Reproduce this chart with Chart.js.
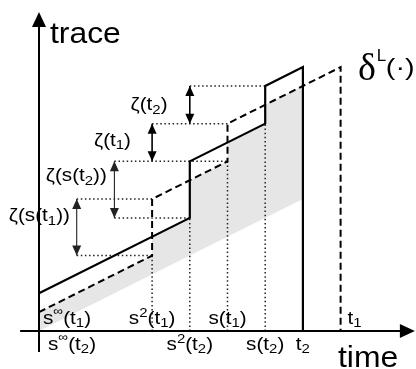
<!DOCTYPE html>
<html>
<head>
<meta charset="utf-8">
<script src="https://cdn.jsdelivr.net/npm/chart.js@4.4.0/dist/chart.umd.min.js"></script>
<style>
html, body { margin: 0; padding: 0; background: #fff; }
</style>
</head>
<body>
<canvas id="c" width="416" height="369"></canvas>
<script>
// trace (solid) and lower bound delta^L (dashed), time in steps, value in units
const traceT = [0, 4, 4, 6, 6, 7, 7];
const traceV = [1, 3, 4.5, 5.5, 6.5, 7, 0];
const boundT = [0, 3, 3, 5, 5, 8, 8];
const boundV = [0.5, 2, 3.5, 4.5, 5.5, 7, 0];

// grey band: under min(trace, bound), over the slope line
const shadeT = [0, 3, 3, 4, 4, 5, 5, 6, 6, 7, 7, 0];
const shadeV = [0.5, 2, 2.5, 3, 4, 4.5, 5, 5.5, 6, 6.5, 3.5, 0];

// zeta jumps
const zetaT = [1, 2, 3, 4];
const zetaLo = [2, 3, 4.5, 5.5];
const zetaHi = [3.5, 4.5, 5.5, 6.5];
const zetaNames = ['ζ(s(t_1))', 'ζ(s(t_2))', 'ζ(t_1)', 'ζ(t_2)'];

// dotted guides
const guideV = [2, 3.5, 3, 4.5, 5.5, 6.5];
const guideFrom = [1, 1, 2, 2, 3, 4];
const guideTo = [3, 3, 4, 5, 5, 6];
const dropT = [3, 4, 5, 6];
const dropTop = [2, 3, 4.5, 5.5];

// tick labels
const upperTickT = [0, 3, 5, 8];
const upperTicks = ['s^∞(t_1)', 's^2(t_1)', 's(t_1)', 't_1'];
const lowerTickT = [0, 4, 6, 7];
const lowerTicks = ['s^∞(t_2)', 's^2(t_2)', 's(t_2)', 't_2'];

// view window
const xMin = -1.0345, xMax = 10.0, yMin = -1.008, yMax = 8.78;

const FAM = '"Liberation Sans", Arial, sans-serif';

const pts = (ts, vs) => ts.map((t, i) => ({x: t, y: vs[i]}));
const line = (data, extra) => Object.assign({
	data, showLine: true, pointRadius: 0, borderColor: '#000',
	borderWidth: 2, fill: false, tension: 0
}, extra);
const dotted = {borderWidth: 1.5, borderColor: '#222', borderDash: [1.5, 2.6]};

let datasets = [];
datasets.push(line(pts(traceT, traceV), {borderWidth: 2.2}));
datasets.push(line(pts(boundT, boundV), {borderDash: [7, 4]}));
guideV.forEach((v, i) => datasets.push(line([{x: guideFrom[i], y: v}, {x: guideTo[i], y: v}], dotted)));
dropT.forEach((t, i) => datasets.push(line([{x: t, y: 0}, {x: t, y: dropTop[i]}], dotted)));
zetaT.forEach((t, i) => datasets.push(line([{x: t, y: zetaLo[i]}, {x: t, y: zetaHi[i]}], {borderWidth: i < 2 ? 1.1 : 1.6, borderColor: i < 2 ? '#222' : '#000'})));
datasets.push(line(pts(shadeT, shadeV), {borderWidth: 0, borderColor: 'rgba(0,0,0,0)', backgroundColor: '#e6e6e6', fill: 'shape'}));

let runs = (str) => {
	let out = [];
	for(let i = 0; i < str.length; i++){
		let c = str[i];
		if((c === '^' || c === '_') && i + 1 < str.length){
			out.push({s: str[i + 1], k: c});
			i++;
		} else if(out.length && out[out.length - 1].k === 'n'){
			out[out.length - 1].s += c;
		} else {
			out.push({s: c, k: 'n'});
		}
	}
	return out;
}

let drawRich = (ctx, str, x, y, size, align, sx) => {
	let rs = runs(str);
	let fontOf = r => r.k === 'n' ? size : (r.s === '∞' ? 12 : Math.round(size * 0.72));
	let shiftOf = r => r.k === '_' ? size * 0.2 : r.k === '^' ? (r.s === '∞' ? -size * 0.5 : -size * 0.36) : 0;
	let widths = rs.map(r => { ctx.font = fontOf(r) + 'px ' + FAM; return ctx.measureText(r.s).width; });
	let total = widths.reduce((a, b) => a + b, 0) * sx;
	let start = align === 'center' ? x - total / 2 : x;
	ctx.save();
	ctx.translate(start, y);
	ctx.scale(sx, 1);
	ctx.textAlign = 'left';
	ctx.textBaseline = 'alphabetic';
	let cx = 0;
	rs.forEach((r, i) => {
		ctx.font = fontOf(r) + 'px ' + FAM;
		ctx.fillText(r.s, cx, shiftOf(r));
		cx += widths[i];
	});
	ctx.restore();
}

let head = (ctx, x, y, dx, dy, len, half) => {
	let bx = x - dx * len, by = y - dy * len;
	ctx.beginPath();
	ctx.moveTo(x, y);
	ctx.lineTo(bx - dy * half, by + dx * half);
	ctx.lineTo(bx + dy * half, by - dx * half);
	ctx.closePath();
	ctx.fill();
}

const sketch = {
	id: 'sketch',
	afterDatasetsDraw(chart){
		let {ctx, scales: {x, y}} = chart;
		let px = t => x.getPixelForValue(t), py = v => y.getPixelForValue(v);
		ctx.save();
		ctx.fillStyle = '#000';
		ctx.strokeStyle = '#000';
		ctx.lineWidth = 2;

		// axes with arrow heads
		ctx.beginPath();
		ctx.moveTo(px(0), py(-0.56));
		ctx.lineTo(px(0), py(8.46) + 10);
		ctx.moveTo(px(-0.5), py(0));
		ctx.lineTo(px(9.97) - 10, py(0));
		ctx.stroke();
		head(ctx, px(0), py(8.46), 0, -1, 15, 7);
		head(ctx, px(9.97), py(0), 1, 0, 15, 7);

		// zeta arrow heads and names
		zetaT.forEach((t, i) => {
			ctx.fillStyle = i < 2 ? '#222' : '#000';
			head(ctx, px(t), py(zetaHi[i]), 0, -1, 10, 4.5);
			head(ctx, px(t), py(zetaLo[i]), 0, 1, 10, 4.5);
		});
		ctx.fillStyle = '#000';
		let zetaAt = [[0.01, 2.92], [0.99, 3.98], [1.95, 4.91], [2.92, 5.86]];
		zetaNames.forEach((n, i) => drawRich(ctx, n, px(zetaAt[i][0]), py(zetaAt[i][1]), 18, 'center', 1.15));

		// tick labels
		upperTickT.forEach((t, i) => {
			let edge = t === 0 || t === 8;
			drawRich(ctx, upperTicks[i], px(t) + (t === 0 ? 4 : edge ? 7 : 0), py(0.19), 18, edge ? 'left' : 'center', 1.15);
		});
		lowerTickT.forEach((t, i) => {
			drawRich(ctx, lowerTicks[i], px(t) + (t === 0 ? 9 : 0), py(-0.5), 18, t === 0 ? 'left' : 'center', 1.15);
		});

		// axis titles and bound name
		drawRich(ctx, 'trace', px(0.29), py(7.64), 29, 'left', 1.1);
		drawRich(ctx, 'time', px(7.93), py(-0.955), 29, 'left', 1.1);
		let lx = px(8.46);
		ctx.font = '38px "Liberation Serif", "Times New Roman", serif';
		ctx.fillText('δ', lx, py(6.65));
		let dw = ctx.measureText('δ').width;
		drawRich(ctx, 'L', lx + dw + 1, py(7.16), 17, 'left', 1.0);
		drawRich(ctx, '(·)', lx + dw + 10, py(6.8), 24, 'left', 1.2);
		ctx.restore();
	}
};

new Chart(document.getElementById('c'), {
	type: 'scatter',
	data: {datasets},
	options: {
		responsive: false,
		animation: false,
		devicePixelRatio: 1,
		layout: {padding: 0},
		plugins: {legend: {display: false}, tooltip: {enabled: false}},
		scales: {
			x: {type: 'linear', display: false, min: xMin, max: xMax},
			y: {type: 'linear', display: false, min: yMin, max: yMax}
		}
	},
	plugins: [sketch]
});
</script>
</body>
</html>
